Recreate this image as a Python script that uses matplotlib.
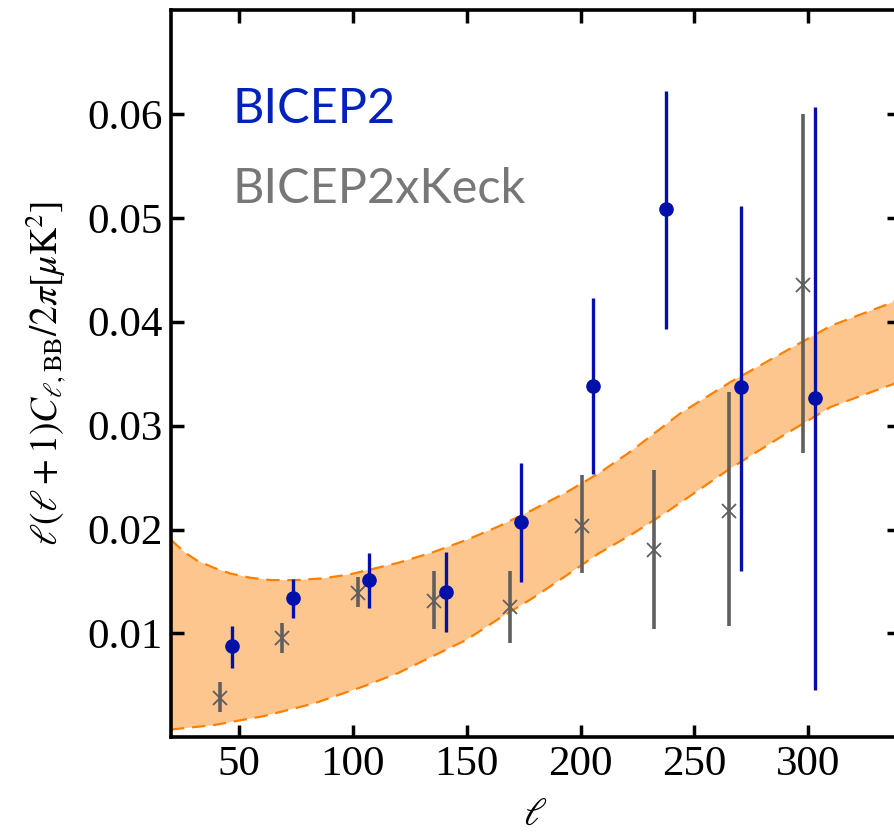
import matplotlib
matplotlib.use("Agg")
import matplotlib.pyplot as plt
import numpy as np

plt.rcParams['mathtext.fontset'] = 'stix'
plt.rcParams['font.family'] = ['Liberation Serif', 'DejaVu Serif']

# BICEP2 band powers (ell, value, lower end, upper end)
b2_ell = [46.6, 73.5, 107.2, 140.8, 173.8, 205.7, 237.5, 270.5, 303.2]
b2_val = [0.0088, 0.0134, 0.0151, 0.0140, 0.0207, 0.0338, 0.0508, 0.0337, 0.0327]
b2_lo = [0.0067, 0.0115, 0.0124, 0.0101, 0.0149, 0.0253, 0.0393, 0.0160, 0.0046]
b2_hi = [0.0107, 0.0152, 0.0177, 0.0178, 0.0264, 0.0423, 0.0622, 0.0511, 0.0607]

# BICEP2 x Keck cross spectrum
bk_ell = [41.6, 68.7, 102.1, 135.8, 169.0, 200.6, 232.5, 265.4, 297.9]
bk_val = [0.0038, 0.0096, 0.0139, 0.0131, 0.0125, 0.0203, 0.0180, 0.0218, 0.0435]
bk_lo = [0.0024, 0.0081, 0.0125, 0.0104, 0.0091, 0.0158, 0.0104, 0.0107, 0.0274]
bk_hi = [0.0053, 0.0110, 0.0154, 0.0160, 0.0160, 0.0252, 0.0257, 0.0332, 0.0600]

# model band edges
band_up_ell = [20, 26, 31.5, 39, 46, 55, 64, 75, 87, 99, 120, 135, 150, 164, 179,
               194, 208, 222, 244, 266, 288, 310, 340]
band_up = [0.0190, 0.0178, 0.0170, 0.0163, 0.01577, 0.01535, 0.01513, 0.01513, 0.0153,
           0.0157, 0.0168, 0.0178, 0.0190, 0.0203, 0.0219, 0.0236, 0.0254, 0.0275,
           0.0312, 0.0342, 0.0369, 0.0396, 0.0421]
band_lo_ell = [20, 39, 61, 83, 105, 120, 135, 150, 164, 179, 194, 208, 223, 238, 252,
               266, 288, 310, 340]
band_lo = [0.00075, 0.00118, 0.00205, 0.00327, 0.00493, 0.0062, 0.0078, 0.0094, 0.0114,
           0.0134, 0.0156, 0.0177, 0.0196, 0.0217, 0.0238, 0.0259, 0.0289, 0.0318, 0.0342]

fig = plt.figure(figsize=(8.95, 8.38), dpi=100)
ax = fig.add_axes([171 / 895, 100.7 / 838, 728 / 895, 727.3 / 838])

ax.fill(np.r_[band_up_ell, band_lo_ell[::-1]], np.r_[band_up, band_lo[::-1]],
        color='#fdc68e', lw=0, zorder=1)
ax.plot(band_up_ell, band_up, color='#ff8000', lw=1.6, dashes=(6, 3.5), zorder=2)
ax.plot(band_lo_ell, band_lo, color='#ff8000', lw=1.6, dashes=(6, 3.5), zorder=2)

bk_err = [np.array(bk_val) - np.array(bk_lo), np.array(bk_hi) - np.array(bk_val)]
ax.errorbar(bk_ell, bk_val, yerr=bk_err, fmt='x', color='#5f5f5f', ms=9.5, mew=1.3,
            elinewidth=2.6, capsize=0, zorder=3)
b2_err = [np.array(b2_val) - np.array(b2_lo), np.array(b2_hi) - np.array(b2_val)]
ax.errorbar(b2_ell, b2_val, yerr=b2_err, fmt='o', color='#0010a8', ms=9.5,
            elinewidth=2.4, capsize=0, zorder=4)

ax.set_xlim(20, 340)
ax.set_ylim(0, 0.07)
ax.set_xticks([50, 100, 150, 200, 250, 300])
ax.set_yticks([0.01, 0.02, 0.03, 0.04, 0.05, 0.06])
ax.set_yticklabels(['0.01', '0.02', '0.03', '0.04', '0.05', '0.06'])
ax.tick_params(direction='in', length=9, width=2.5, top=True, right=True,
               labelsize=31, pad=6)
for s in ax.spines.values():
    s.set_linewidth(2.6)

ax.set_xlabel(r'$\ell$', fontsize=28, labelpad=9)
ax.set_ylabel(r'$\ell(\ell+1)C_{\ell,\mathrm{BB}}/2\pi[\mu\mathrm{K}^2]$', fontsize=27, labelpad=14)

ax.text(0.084, 0.845, 'BICEP2', transform=ax.transAxes, color='#0022bb',
        fontsize=35, family='Lato', va='baseline')
ax.text(0.084, 0.735, 'BICEP2xKeck', transform=ax.transAxes, color='#777777',
        fontsize=35, family='Lato', va='baseline')

fig.savefig('out.png', dpi=100)
